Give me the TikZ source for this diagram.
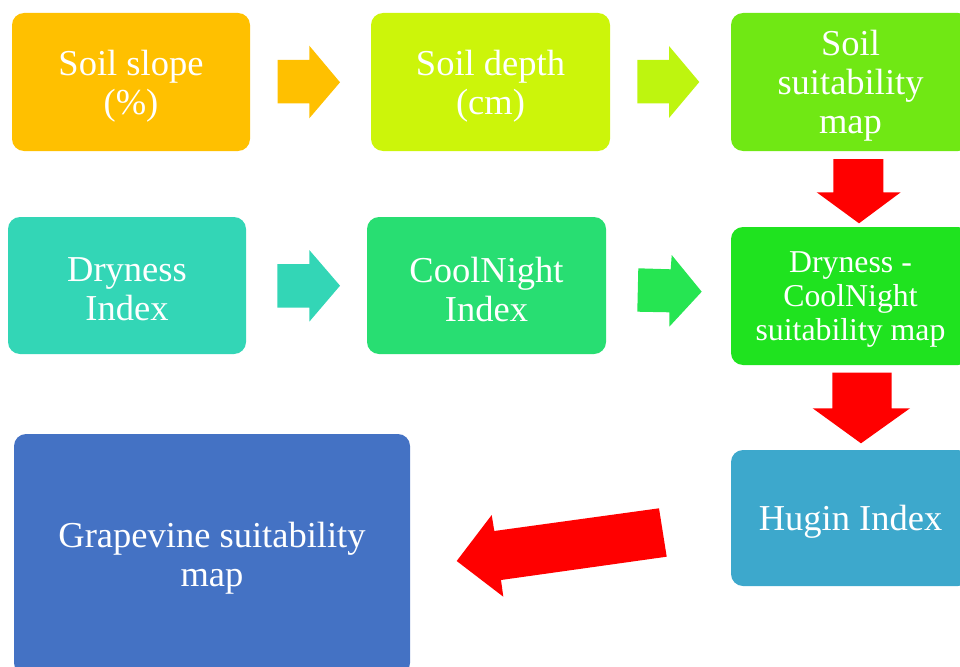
\documentclass[tikz,border=0pt]{standalone}
\usepackage{fontspec}
\setmainfont{Liberation Serif}
\definecolor{cOrange}{RGB}{255,192,0}
\definecolor{cYellowG}{RGB}{204,245,10}
\definecolor{cYellowGA}{RGB}{190,245,15}
\definecolor{cLime}{RGB}{112,232,20}
\definecolor{cTeal}{RGB}{51,214,182}
\definecolor{cGreenA}{RGB}{40,222,114}
\definecolor{cGreenB}{RGB}{38,229,82}
\definecolor{cGreenC}{RGB}{31,227,31}
\definecolor{cCyan}{RGB}{61,168,204}
\definecolor{cBlue}{RGB}{68,114,196}
\definecolor{cRed}{RGB}{255,0,0}
\tikzset{
  box/.style={rectangle, rounded corners=12pt, draw=none, inner sep=0pt,
    minimum width=238pt, minimum height=138pt},
  txt/.style={inner sep=0pt, text=white, align=center, font=\fontsize{36.5}{39}\selectfont},
  smalltxt/.style={txt, font=\fontsize{31.8}{34}\selectfont}
}
\begin{document}
\begin{tikzpicture}[x=1pt,y=-1pt]
\useasboundingbox (0,0) rectangle (960,666);
\clip (0,0) rectangle (960,666);
% boxes
\node[box, fill=cOrange] (slope) at (131,82) {};
\node[box, fill=cYellowG, minimum width=239pt] (depth) at (490.5,82) {};
\node[box, fill=cLime, minimum width=239pt] (soilmap) at (850.5,82) {};
\node[box, fill=cTeal, minimum height=137pt] (dry) at (127,285.5) {};
\node[box, fill=cGreenA, minimum width=239pt, minimum height=137pt] (cool) at (486.5,285.5) {};
\node[box, fill=cGreenC, minimum width=239pt, minimum height=138pt] (dcmap) at (850.5,296) {};
\node[box, fill=cCyan, minimum width=239pt, minimum height=136pt] (hugin) at (850.5,518) {};
\node[box, fill=cBlue, minimum width=396pt, minimum height=241pt] (grape) at (212,554.5) {};
% texts
\node[txt] (tslope) at ([yshift=-4pt]slope.center) {Soil slope\\(\%)};
\node[txt] (tdepth) at ([yshift=-4pt]depth.center) {Soil depth\\(cm)};
\node[txt] (tsoilmap) at ([yshift=-4pt]soilmap.center) {Soil\\suitability\\map};
\node[txt] (tdry) at ([yshift=-4pt]dry.center) {Dryness\\Index};
\node[txt] (tcool) at ([yshift=-4pt]cool.center) {CoolNight\\Index};
\node[smalltxt] (tdcmap) at ([yshift=-4pt]dcmap.center) {Dryness -\\CoolNight\\suitability map};
\node[txt] (thugin) at ([yshift=-3.5pt]hugin.center) {Hugin Index};
\node[txt] (tgrape) at ([yshift=-4pt]grape.center) {Grapevine suitability\\map};
% block arrows
\fill[cOrange] (277.7,60) -- (309.3,60) -- (309.3,45.7) -- (340,82.3) -- (309.3,118.3) -- (309.3,103.3) -- (277.7,103.3) -- cycle;
\fill[cYellowGA] (637.3,60) -- (669,60) -- (669,46) -- (699.3,82) -- (669,118) -- (669,103.3) -- (637.3,103.3) -- cycle;
\fill[cTeal] (277.3,264) -- (309.3,264) -- (309.3,250) -- (340,285.7) -- (309.3,321.7) -- (309.3,307.7) -- (277.3,307.7) -- cycle;
\fill[cGreenB] (638.3,268.3) -- (670.7,269.3) -- (671.7,255) -- (701.7,291.7) -- (669.3,326.7) -- (669.3,312.3) -- (637.3,311.7) -- cycle;
\fill[cRed] (833.3,159) -- (883.3,159) -- (883.3,192.3) -- (900.7,192.3) -- (859,223.3) -- (816.7,192.3) -- (833.3,192.3) -- cycle;
\fill[cRed] (832.3,372.7) -- (891.7,372.7) -- (891.7,408.3) -- (910,408.3) -- (861,443.3) -- (812.7,408.3) -- (832.3,408.3) -- cycle;
\fill[cRed] (666.7,556.7) -- (659,508.3) -- (494.3,531) -- (491.7,515) -- (456.7,561) -- (503.3,596.7) -- (501,580) -- cycle;
\end{tikzpicture}
\end{document}
